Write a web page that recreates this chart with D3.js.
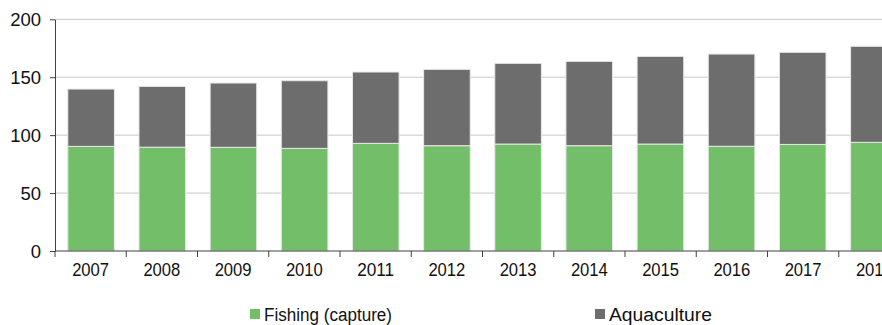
<!DOCTYPE html>
<html><head><meta charset="utf-8">
<script src="https://cdn.jsdelivr.net/npm/d3@7/dist/d3.min.js"></script>
<style>body{margin:0;background:#fff;} svg{display:block;}</style>
</head><body>
<svg id="c" width="882" height="325"></svg>
<script>
const years = ["2007","2008","2009","2010","2011","2012","2013","2014","2015","2016","2017","2018"];
const fishing = [90.3, 89.6, 89.5, 88.6, 92.9, 90.9, 92.3, 90.9, 92.3, 90.4, 92.0, 93.8];
const aquaculture = [49.5, 52.5, 55.5, 58.4, 61.6, 65.9, 69.7, 72.8, 75.7, 79.6, 79.5, 82.9];
const yTicks = [0, 50, 100, 150, 200];
const seriesNames = ["Fishing (capture)", "Aquaculture"];
const colors = ["#73bf69", "#6d6d6d"];

const svg = d3.select("#c");
const font = "'Liberation Sans', Arial, sans-serif";
const x0 = 55, yBase = 251, yTop = 19.3;
const x = d3.scaleBand().domain(years).range([x0, x0 + 12*71.25]).paddingInner(0.345).paddingOuter(0.18);
const y = d3.scaleLinear().domain([0, 200]).range([yBase, yTop]);

// gridlines
svg.append("g").selectAll("line").data(yTicks.filter(d => d > 0)).join("line")
  .attr("x1", x0).attr("x2", 882).attr("y1", d => y(d)).attr("y2", d => y(d))
  .attr("stroke", "#c8c8c8").attr("stroke-width", 1);

const data = years.map((yr, i) => ({year: yr, fishing: fishing[i], aquaculture: aquaculture[i]}));
const stack = d3.stack().keys(["fishing", "aquaculture"])(data);
svg.append("g").selectAll("g").data(stack).join("g")
  .attr("fill", (d, i) => colors[i])
  .selectAll("rect").data(d => d).join("rect")
  .attr("x", d => x(d.data.year)).attr("width", x.bandwidth())
  .attr("y", d => y(d[1])).attr("height", d => y(d[0]) - y(d[1]))
  .attr("stroke", "#e8e8e8").attr("stroke-width", 1);

// y axis
const ya = svg.append("g").attr("transform", `translate(${x0},0)`)
  .call(d3.axisLeft(y).tickValues(yTicks).tickSize(5).tickSizeOuter(0).tickPadding(9));
ya.select(".domain").attr("stroke", "#404040");
ya.selectAll(".tick line").attr("stroke", "#404040");
ya.selectAll("text").attr("font-family", font).attr("font-size", 18.5).attr("fill", "#111").attr("dy", "0.34em");

// x axis
const xa = svg.append("g").attr("transform", `translate(0,${yBase})`);
xa.append("line").attr("x1", x0).attr("x2", 882).attr("stroke", "#404040");
const bounds = years.map((d, i) => x0 + i * 71.25);
xa.selectAll("line.t").data(bounds).join("line").attr("class", "t")
  .attr("x1", d => d).attr("x2", d => d).attr("y1", 0).attr("y2", 6).attr("stroke", "#404040");
xa.selectAll("text").data(years).join("text")
  .attr("x", d => x0 + years.indexOf(d) * 71.25 + 71.25/2).attr("y", 25)
  .attr("text-anchor", "middle").attr("font-family", font).attr("font-size", 19).attr("fill", "#111")
  .attr("textLength", 37).attr("lengthAdjust", "spacingAndGlyphs")
  .text(d => d);

// legend
const legX = [250, 595];
const lg = svg.append("g").selectAll("g").data(seriesNames).join("g")
  .attr("transform", (d, i) => `translate(${legX[i]},309)`);
lg.append("rect").attr("width", 10).attr("height", 10).attr("fill", (d, i) => colors[i]);
lg.append("text").attr("x", 14).attr("y", 12).attr("font-family", font).attr("font-size", 18)
  .attr("fill", "#111").text(d => d)
  .attr("textLength", (d, i) => i === 0 ? 128 : 103).attr("lengthAdjust", "spacingAndGlyphs");
</script>
</body></html>
